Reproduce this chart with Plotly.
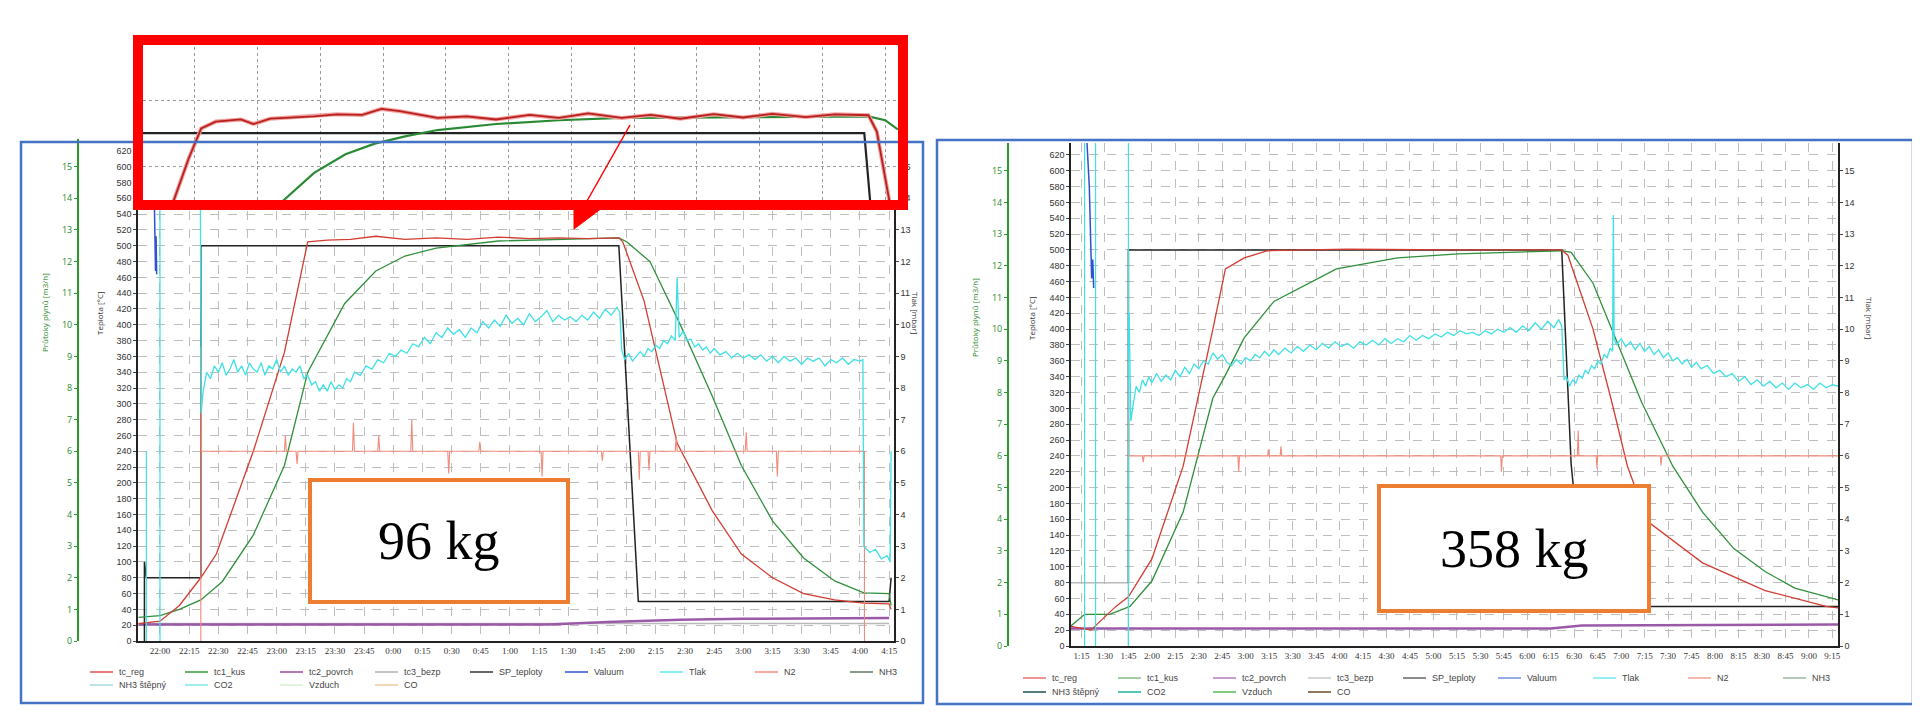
import plotly.graph_objects as go

W, H = 1920, 720
def px(x): return x / W
def py(y): return 1 - y / H

# ---------------- LEFT PANEL (minutes after 22:00) ----------------
L_tick_vals = list(range(0, 376, 15))
L_tick_text = ["22:00","22:15","22:30","22:45","23:00","23:15","23:30","23:45","0:00","0:15","0:30","0:45",
               "1:00","1:15","1:30","1:45","2:00","2:15","2:30","2:45","3:00","3:15","3:30","3:45","4:00","4:15"]

L_reg_t = [-11,0,10,21,29,48,64,76,86,98,111,126,142,158,174,190,205,220,236,238,249,266,284,299,315,331,347,362,375,376]
L_reg_v = [22,25,45,80,110,240,365,505,507,508,512,508,510,508,511,509,510,509,510,505,430,250,165,110,80,60,52,48,47,40]

L_kus_t = [-11,0,10,21,32,48,64,76,95,111,126,142,174,205,236,240,252,268,284,299,315,331,347,362,375,376]
L_kus_v = [30,32,40,52,75,134,222,340,427,468,487,497,506,508,510,505,480,398,310,222,152,105,76,61,60,45]

L_sp_t = [-8,-8,-7,21,21,236,246,375,376]
L_sp_v = [0,100,80,80,500,500,50,50,80]

L_povrch_t = [-11,200,230,268,300,375]
L_povrch_v = [21,21,24,27,28,29]
L_bezp_t = [-11,375]
L_bezp_v = [22,22]

L_tlak_t = [20.8,21.2,22,24,26,28,30,32,34,36,38,40,42,44,46,48,50,52,54,56,58,60,62,64,66,68,70,72,74,76,78,80,82,84,86,88,90,92,94,96,98,100,
            103,106,109,112,115,118,121,124,127,130,133,136,139,142,145,148,151,154,157,160,163,166,169,172,175,178,181,184,187,190,193,196,199,
            202,205,208,211,214,217,220,223,226,229,232,235,236.5,237.5,239,241,243,245,247,249,251,253,255,257,259,261,263,265,266,267,269,271,
            273,275,277,279,281,283,285,288,291,294,297,300,303,306,309,312,315,318,321,324,327,330,333,336,339,342,345,348,351,354,357,360,361.5,
            362,365,368,371,374,375.5,376]
L_tlak_v = [13.7,7.2,7.8,8.5,8.3,8.7,8.5,8.8,8.4,8.6,8.9,8.5,8.7,8.4,8.8,8.6,8.5,8.8,8.4,8.7,8.6,8.9,8.5,8.7,8.4,8.6,8.5,8.7,8.3,8.4,8.1,8.2,7.9,8.1,7.9,8.2,7.95,8.1,8.0,8.3,8.2,8.5,
            8.4,8.7,8.6,8.9,8.8,9.1,9.0,9.2,9.1,9.4,9.3,9.6,9.4,9.75,9.6,9.9,9.7,9.85,9.6,9.9,9.75,10.1,9.9,10.15,9.95,10.3,10.05,10.2,10.0,10.35,10.1,10.25,10.45,
            10.1,10.3,10.15,10.25,10.1,10.3,10.15,10.4,10.2,10.5,10.3,10.55,10.4,9.2,8.9,9.1,8.85,9.0,9.15,9.0,9.25,9.15,9.35,9.25,9.5,9.4,9.65,9.5,11.5,9.6,9.8,9.5,
            9.55,9.3,9.4,9.2,9.3,9.1,9.25,9.05,9.15,8.95,9.1,8.95,9.05,8.9,9.05,8.85,9.0,8.8,9.0,8.85,8.95,8.75,8.95,8.85,8.95,8.7,8.9,8.8,8.95,8.75,8.9,8.85,8.9,
            3.0,2.8,2.9,2.6,2.7,2.5,6.0]
L_tlak_spike1_t = [-7,-7]; L_tlak_spike1_v = [0,6.0]
L_tlak_spike2_t = [0,0]; L_tlak_spike2_v = [0,15.9]

L_n2_t = [21,21,21.3,64,64.5,65,70,70.5,71,99,99.5,100,112,112.5,113,129,129.5,130,148,148.5,149,164,164.5,165,196,196.5,197,
          227,227.5,228,246,246.5,247,251,251.5,252,265,265.5,266,301,301.5,302,317,317.5,318,362,362.3,362.3]
L_n2_v = [0,9.3,6,6,6.5,6,6,5.6,6,6,6.9,6,6,6.5,6,6,7.0,6,6,5.3,6,6,6.3,6,6,5.2,6,
          6,5.7,6,6,5.1,6,6,5.4,6,6,6.5,6,6,6.6,6,6,5.2,6,6,6,0]

L_val_t = [-3.4,-2.8,-2.3,-2.0,-1.7]
L_val_v = [15.9,14.0,11.7,12.8,11.6]

# ---------------- INSET (zoom of left panel top) ----------------
I_reg_t = [69.9,73.5,76.5,80,86,89,93,103.5,109,115,119.6,124,133,140,147,155,162,169,177,184,191,199,206,213,221,228,236,238,241]
I_reg_v = [455,483,503,507.6,509,506,509.5,511,512.4,512,516,514.5,510,511,509,512,510,513,510,512,509.5,512.5,510.3,512.7,510.6,512.4,511.8,501,455]
I_kus_t = [96,103.5,111,118,125.5,133,147,162,177,206,236,240,243]
I_kus_v = [455,473.6,486,493,498,502,506,508.5,510,510.6,511,508.5,502.4]
I_sp_t = [62.6,235,236.4]
I_sp_v = [500,500,455]

# ---------------- RIGHT PANEL (minutes after 1:15) ----------------
R_tick_vals = list(range(0, 481, 15))
R_tick_text = ["1:15","1:30","1:45","2:00","2:15","2:30","2:45","3:00","3:15","3:30","3:45","4:00","4:15","4:30","4:45",
               "5:00","5:15","5:30","5:45","6:00","6:15","6:30","6:45","7:00","7:15","7:30","7:45","8:00","8:15","8:30",
               "8:45","9:00","9:15"]

R_reg_t = [-7,6,22,30,45,65,84,92,104,119,170,240,307,311,327,339,349,362,397,437,476,484]
R_reg_v = [25,20,50,62,110,227,400,476,490,499,501,500,500,493,400,308,227,157,105,70,50,48]
R_kus_t = [-7,2,18,31,45,65,84,92,104,123,163,202,241,307,313,327,339,358,378,397,417,437,456,484]
R_kus_v = [25,40,40,50,82,169,313,342,389,435,476,490,495,499,497,458,400,308,227,169,123,94,73,58]
R_sp_t = [30,30,307,313,315,325,484]
R_sp_v = [80,500,500,230,190,50,50]
R_bezp_t = [-7,30]
R_bezp_v = [80,80]
R_povrch_t = [-7,300,320,484]
R_povrch_v = [22,22,26,27]

R_tlak_t = [30.5,31.5,33,35,37,39,41,43,45,48,51,54,57,60,63,66,69,72,75,78,81,84,87,90,93,96,99,102,105,108,111,114,117,120,123,126,
            130,134,138,142,146,150,154,158,162,166,170,174,178,182,186,190,194,198,202,206,210,214,218,222,226,230,234,238,242,246,250,254,
            258,262,266,270,274,278,282,286,290,294,298,302,305,307,308.5,310,312,314,316,318,320,322,324,326,328,330,332,334,336,338,339.5,340,
            340.5,342,345,348,351,354,357,360,363,366,369,372,375,378,381,384,387,390,393,396,400,404,408,412,416,420,424,428,432,436,440,444,
            448,452,456,460,464,468,472,476,480,484]
R_tlak_v = [10.5,7.1,7.6,8.2,8.0,8.4,8.2,8.5,8.3,8.6,8.35,8.55,8.4,8.7,8.5,8.8,8.6,8.9,8.75,9.0,8.9,9.25,9.05,9.2,8.95,8.85,9.05,8.9,9.1,9.0,9.2,9.1,9.3,9.15,9.35,9.2,
            9.4,9.25,9.45,9.3,9.5,9.35,9.55,9.4,9.6,9.45,9.55,9.4,9.6,9.5,9.65,9.5,9.7,9.55,9.7,9.6,9.8,9.65,9.8,9.7,9.85,9.75,9.9,9.8,9.95,9.85,9.9,9.8,
            9.95,9.85,10.0,9.9,10.05,9.9,10.1,9.95,10.2,10.0,10.25,10.05,10.3,10.1,8.4,8.5,8.2,8.4,8.3,8.55,8.45,8.7,8.6,8.85,8.75,9.0,8.9,9.2,9.1,9.4,9.3,13.6,
            9.7,9.5,9.7,9.45,9.6,9.35,9.55,9.3,9.45,9.2,9.35,9.1,9.25,9.0,9.1,8.9,9.05,8.8,8.95,8.75,8.85,8.6,8.7,8.5,8.6,8.35,8.5,8.25,8.4,8.2,8.35,8.15,
            8.3,8.1,8.3,8.15,8.25,8.1,8.3,8.15,8.25,8.2]
R_cy1_t = [2,2]; R_cy1_v = [0,15.9]
R_cy2_t = [9,9]; R_cy2_v = [0,15.9]
R_cy3_t = [30,30]; R_cy3_v = [0,15.9]

R_n2_t = [30,30,30.3,39,39.5,40,100,100.5,101,119,119.5,120,127,127.5,128,268,268.5,269,317,317.5,318,329,329.5,330,370,370.5,371,484]
R_n2_v = [0,9.0,6,6,5.8,6,6,5.5,6,6,6.2,6,6,6.3,6,6,5.5,6,6,6.8,6,6,5.6,6,6,5.7,6,6]
R_val_t = [3.5,5,6.5,7.2,7.8]
R_val_v = [15.9,14.5,11.6,12.2,11.3]

# legend rows
LEG1 = ["tc_reg","tc1_kus","tc2_povrch","tc3_bezp","SP_teploty","Valuum","Tlak","N2","NH3"]
LEG2 = ["NH3 štěpný","CO2","Vzduch","CO"]
L_LEG1_COL = ["#e05050","#3a9a3a","#9a4aa0","#b0b0b0","#333333","#3050d0","#60e8ee","#f29080","#5a7a60"]
L_LEG2_COL = ["#a8d8dc","#80e4ea","#d8f0d0","#f0c8a0"]
R_LEG1_COL = ["#e87070","#80c080","#b080b8","#c8c8c8","#666666","#7090e0","#70e8ee","#f2a090","#9ab8a0"]
R_LEG2_COL = ["#1f4f4f","#20b0a0","#5ab85a","#6a4a20"]

C_RED = "#d23c32"; C_GRN = "#2f8f3a"; C_CY = "#3fe0e6"; C_SAL = "#f28a7a"; C_PUR = "#9a5aa8"
C_GRY = "#b8b8b8"; C_BLK = "#222222"; C_BLU = "#3050d0"

fig = go.Figure()

def line(x, y, xa, ya, color, w=1.2):
    fig.add_trace(go.Scatter(x=x, y=y, xaxis=xa, yaxis=ya, mode="lines",
                             line=dict(color=color, width=w), showlegend=False, hoverinfo="skip"))

# left panel traces
line(L_bezp_t, L_bezp_v, "x", "y", C_GRY, 1.5)
line(L_povrch_t, L_povrch_v, "x", "y", C_PUR, 2.5)
line(L_n2_t, L_n2_v, "x", "y2", C_SAL, 1.1)
line(L_tlak_spike1_t, L_tlak_spike1_v, "x", "y3", C_CY, 1.2)
line(L_tlak_spike2_t, L_tlak_spike2_v, "x", "y3", C_CY, 1.2)
line(L_tlak_t, L_tlak_v, "x", "y3", C_CY, 1.3)
line(L_val_t, L_val_v, "x", "y3", C_BLU, 1.5)
line(L_sp_t, L_sp_v, "x", "y", C_BLK, 1.5)
line(L_kus_t, L_kus_v, "x", "y", C_GRN, 1.3)
line(L_reg_t, L_reg_v, "x", "y", C_RED, 1.3)

# right panel traces
line(R_bezp_t, R_bezp_v, "x2", "y4", C_GRY, 1.5)
line(R_povrch_t, R_povrch_v, "x2", "y4", C_PUR, 2.5)
line(R_n2_t, R_n2_v, "x2", "y5", C_SAL, 1.1)
line(R_cy1_t, R_cy1_v, "x2", "y6", C_CY, 1.2)
line(R_cy2_t, R_cy2_v, "x2", "y6", C_CY, 1.2)
line(R_cy3_t, R_cy3_v, "x2", "y6", C_CY, 1.2)
line(R_tlak_t, R_tlak_v, "x2", "y6", C_CY, 1.3)
line(R_val_t, R_val_v, "x2", "y6", C_BLU, 1.5)
line(R_sp_t, R_sp_v, "x2", "y4", C_BLK, 1.5)
line(R_kus_t, R_kus_v, "x2", "y4", C_GRN, 1.3)
line(R_reg_t, R_reg_v, "x2", "y4", C_RED, 1.3)

# inset traces
line(I_sp_t, I_sp_v, "x3", "y7", C_BLK, 2.2)
line(I_kus_t, I_kus_v, "x3", "y7", "#2a8a34", 2.2)
line(I_reg_t, I_reg_v, "x3", "y7", "#f0a0a0", 4)
line(I_reg_t, I_reg_v, "x3", "y7", "#b8201c", 1.8)

TF = dict(size=9, color="#333", family="Liberation Sans")
XF = dict(size=9, color="#333", family="Liberation Sans Narrow")
grid = dict(showgrid=True, gridcolor="#bdbdbd", gridwidth=1, griddash="dash")
TMAX = 635
PMAX = TMAX / 40

fig.update_layout(
    width=W, height=H, margin=dict(l=0, r=0, t=0, b=0, autoexpand=False),
    paper_bgcolor="white", plot_bgcolor="white", showlegend=False,
    xaxis=dict(domain=[px(130), px(886)], range=[-11.3, 377.5], tickvals=L_tick_vals, ticktext=L_tick_text, tickangle=0,
               tickfont=XF, showline=True, linecolor="#222", linewidth=1.5, ticks="", anchor="y", zeroline=False, **grid),
    yaxis=dict(domain=[py(633), py(131)], range=[0, TMAX], tickvals=list(range(0, 621, 20)), tickfont=TF,
               showline=True, linecolor="#222", linewidth=1.5, ticks="outside", ticklen=3, anchor="x", zeroline=False, **grid),
    yaxis2=dict(overlaying="y", anchor="free", position=px(70), side="left", range=[0, PMAX], tickvals=list(range(0, 16)),
                tickfont=dict(size=9, color="#2a8a2a"), showline=True, linecolor="#2a9a2a", linewidth=2,
                ticks="outside", ticklen=3, tickcolor="#2a9a2a", showgrid=False, zeroline=False),
    yaxis3=dict(overlaying="y", anchor="x", side="right", range=[0, PMAX], tickvals=list(range(0, 16)), tickfont=TF,
                showline=True, linecolor="#222", linewidth=1.5, ticks="outside", ticklen=3, showgrid=False, zeroline=False),
    xaxis2=dict(domain=[px(1063), px(1830)], range=[-6.7, 483.6], tickvals=R_tick_vals, ticktext=R_tick_text, tickangle=0,
                tickfont=XF, showline=True, linecolor="#222", linewidth=1.5, ticks="", anchor="y4", zeroline=False, **grid),
    yaxis4=dict(domain=[py(638), py(135)], range=[0, TMAX], tickvals=list(range(0, 621, 20)), tickfont=TF,
                showline=True, linecolor="#222", linewidth=1.5, ticks="outside", ticklen=3, anchor="x2", zeroline=False, **grid),
    yaxis5=dict(overlaying="y4", anchor="free", position=px(1000), side="left", range=[0, PMAX], tickvals=list(range(0, 16)),
                tickfont=dict(size=9, color="#2a8a2a"), showline=True, linecolor="#2a9a2a", linewidth=2,
                ticks="outside", ticklen=3, tickcolor="#2a9a2a", showgrid=False, zeroline=False),
    yaxis6=dict(overlaying="y4", anchor="x2", side="right", range=[0, PMAX], tickvals=list(range(0, 16)), tickfont=TF,
                showline=True, linecolor="#222", linewidth=1.5, ticks="outside", ticklen=3, showgrid=False, zeroline=False),
    xaxis3=dict(domain=[px(135), px(891)], range=[62.6, 243.3], tickvals=list(range(75, 241, 15)), showticklabels=False,
                anchor="y7", zeroline=False, showgrid=True, gridcolor="#9a9a9a", griddash="dot", ticks=""),
    yaxis7=dict(domain=[py(193), py(39)], range=[455, 557], tickvals=[477.6, 521.5], showticklabels=False,
                anchor="x3", zeroline=False, showgrid=True, gridcolor="#9a9a9a", griddash="dot", ticks=""),
)

shapes = []
ann = []

# manual legends
def legend_rows(x0, y1, y2, cols1, cols2):
    for rowy, names, cols in ((y1, LEG1, cols1), (y2, LEG2, cols2)):
        for i, (nm, c) in enumerate(zip(names, cols)):
            lx = x0 + i * 95
            shapes.append(dict(type="line", xref="paper", yref="paper", x0=px(lx), x1=px(lx + 23),
                               y0=py(rowy), y1=py(rowy), line=dict(color=c, width=1.5)))
            ann.append(dict(text=nm, x=px(lx + 27), y=py(rowy), xref="paper", yref="paper", showarrow=False,
                            xanchor="left", yanchor="middle", font=dict(size=9, color="#444", family="Liberation Sans")))

legend_rows(82, 664, 677, L_LEG1_COL, L_LEG2_COL)
legend_rows(1015, 670, 684, R_LEG1_COL, R_LEG2_COL)

# panel borders
shapes.append(dict(type="rect", xref="paper", yref="paper", x0=px(13), x1=px(915), y0=py(695), y1=py(134),
                   line=dict(color="#4472c4", width=2.5), layer="above"))
shapes.append(dict(type="rect", xref="paper", yref="paper", x0=px(929), x1=px(1905), y0=py(696), y1=py(132),
                   line=dict(color="#4472c4", width=2.5), layer="above"))
# red callout frame
shapes.append(dict(type="rect", xref="paper", yref="paper", x0=px(130), x1=px(895), y0=py(197), y1=py(32),
                   line=dict(color="#ff0000", width=10), layer="above"))
shapes.append(dict(type="path", xref="paper", yref="paper",
                   path=f"M {px(566)},{py(200)} L {px(594)},{py(200)} L {px(566)},{py(221)} Z",
                   fillcolor="#ff0000", line=dict(color="#ff0000", width=1), layer="above"))
shapes.append(dict(type="line", xref="paper", yref="paper", x0=px(622), y0=py(117), x1=px(579), y1=py(193),
                   line=dict(color="#ff0000", width=1.5), layer="above"))
# orange labels
shapes.append(dict(type="rect", xref="paper", yref="paper", x0=px(302), x1=px(560), y0=py(594), y1=py(472),
                   line=dict(color="#ed7d31", width=4), fillcolor="white", layer="above"))
shapes.append(dict(type="rect", xref="paper", yref="paper", x0=px(1371), x1=px(1641), y0=py(603), y1=py(478),
                   line=dict(color="#ed7d31", width=4), fillcolor="white", layer="above"))
fig.update_layout(shapes=shapes)

C = dict(xref="paper", yref="paper", showarrow=False, xanchor="center", yanchor="middle")
ann += [
    dict(text="96 kg", x=px(431), y=py(533), font=dict(family="Liberation Serif", size=54, color="black"), **C),
    dict(text="358 kg", x=px(1506), y=py(541), font=dict(family="Liberation Serif", size=54, color="black"), **C),
    dict(text="Průtoky plynů [m3/h]", x=px(36), y=py(305), textangle=-90, font=dict(size=8, color="#2a8a2a"), **C),
    dict(text="Teplota [°C]", x=px(91), y=py(305), textangle=-90, font=dict(size=8, color="#333"), **C),
    dict(text="Tlak [mbar]", x=px(908), y=py(305), textangle=90, font=dict(size=8, color="#333"), **C),
    dict(text="Průtoky plynů [m3/h]", x=px(966), y=py(310), textangle=-90, font=dict(size=8, color="#2a8a2a"), **C),
    dict(text="Teplota [°C]", x=px(1023), y=py(310), textangle=-90, font=dict(size=8, color="#333"), **C),
    dict(text="Tlak [mbar]", x=px(1862), y=py(310), textangle=90, font=dict(size=8, color="#333"), **C),
]
fig.update_layout(annotations=ann)

fig.write_html("out.html")
